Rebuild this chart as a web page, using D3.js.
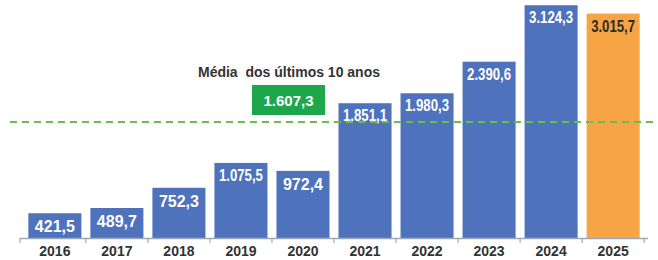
<!DOCTYPE html>
<html>
<head>
<meta charset="utf-8">
<script src="https://cdn.jsdelivr.net/npm/d3@7"></script>
<style>
  body { margin: 0; background: #fff; }
  svg { display: block; font-family: "Liberation Sans", Arial, sans-serif; }
</style>
</head>
<body>
<div id="chart"></div>
<script>
//Chart data.
const years = ["2016", "2017", "2018", "2019", "2020", "2021", "2022", "2023", "2024", "2025"];
const values = [421.5, 489.7, 752.3, 1075.5, 972.4, 1851.1, 1980.3, 2390.6, 3124.3, 3015.7];
const valueLabels = ["421,5", "489,7", "752,3", "1.075,5", "972,4", "1.851,1", "1.980,3", "2.390,6", "3.124,3", "3.015,7"];
const averageValue = 1607.3;
const averageLabel = "1.607,3";
const averageTitle = "Média  dos últimos 10 anos";

//Dimensions of the picture.
const w = 658;
const h = 260;
const baseline = 238;

const svg = d3.select("#chart")
  .append("svg")
  .attr("width", w)
  .attr("height", h);

//Scales.
const xScale = d3.scaleBand()
  .domain(years)
  .range([24, 644])
  .paddingInner(0.145)
  .paddingOuter(0.07);

const yScale = d3.scaleLinear()
  .domain([100, 3200])
  .range([baseline, -0.6]);

const isLast = i => i === years.length - 1;

//Bars: last year is highlighted in orange.
svg.selectAll("rect.bar")
  .data(values)
  .enter()
  .append("rect")
  .attr("class", "bar")
  .attr("x", (d, i) => xScale(years[i]))
  .attr("y", d => yScale(d))
  .attr("width", xScale.bandwidth())
  .attr("height", d => baseline - yScale(d))
  .attr("fill", (d, i) => isLast(i) ? "#f6a444" : "#4f72bd");

//Value labels inside the top of each bar. The long ones are drawn condensed.
const labels = svg.selectAll("text.value")
  .data(values)
  .enter()
  .append("text")
  .attr("class", "value")
  .attr("x", (d, i) => xScale(years[i]) + xScale.bandwidth() / 2)
  .attr("y", (d, i) => yScale(d) + (valueLabels[i].length > 5 ? 18 : 19))
  .attr("text-anchor", "middle")
  .style("font-weight", "bold")
  .style("font-size", "16px")
  .attr("fill", (d, i) => isLast(i) ? "#2a2a2a" : "#ffffff")
  .text((d, i) => valueLabels[i]);

labels.filter((d, i) => valueLabels[i].length > 5)
  .attr("textLength", 44)
  .attr("lengthAdjust", "spacingAndGlyphs");

//Average line.
svg.append("line")
  .attr("x1", 10)
  .attr("x2", w)
  .attr("y1", yScale(averageValue))
  .attr("y2", yScale(averageValue))
  .attr("stroke", "#6dbb55")
  .attr("stroke-width", 2)
  .attr("stroke-dasharray", "7,5");

//Average title and box.
svg.append("text")
  .attr("x", 289)
  .attr("y", 77)
  .attr("text-anchor", "middle")
  .style("font-weight", "bold")
  .style("font-size", "14px")
  .style("white-space", "pre")
  .attr("fill", "#333")
  .text(averageTitle);

svg.append("rect")
  .attr("x", 252)
  .attr("y", 85)
  .attr("width", 73)
  .attr("height", 30)
  .attr("fill", "#1ea64c");

svg.append("text")
  .attr("x", 288.5)
  .attr("y", 106)
  .attr("text-anchor", "middle")
  .style("font-weight", "bold")
  .style("font-size", "15px")
  .attr("fill", "#fff")
  .text(averageLabel);

//X axis with year labels.
const xAxis = d3.axisBottom(xScale).tickSize(0).tickPadding(8);
const axisG = svg.append("g")
  .attr("transform", "translate(0," + baseline + ")")
  .call(xAxis);

axisG.select(".domain")
  .attr("d", "M20,0.5H648")
  .attr("stroke", "#9aaabb")
  .attr("stroke-width", 1.5);

axisG.selectAll("text")
  .style("font-family", "'Liberation Sans', Arial, sans-serif")
  .style("font-size", "14px")
  .style("font-weight", "bold")
  .attr("fill", "#333");

//Tick marks between the categories.
const step = xScale.step();
const boundaries = [20].concat(years.map(y => xScale(y) + xScale.bandwidth() + (step - xScale.bandwidth()) / 2));
axisG.selectAll("line.sep")
  .data(boundaries)
  .enter()
  .append("line")
  .attr("class", "sep")
  .attr("x1", d => d)
  .attr("x2", d => d)
  .attr("y1", 0)
  .attr("y2", 5)
  .attr("stroke", "#9aaabb")
  .attr("stroke-width", 1.2);
</script>
</body>
</html>
